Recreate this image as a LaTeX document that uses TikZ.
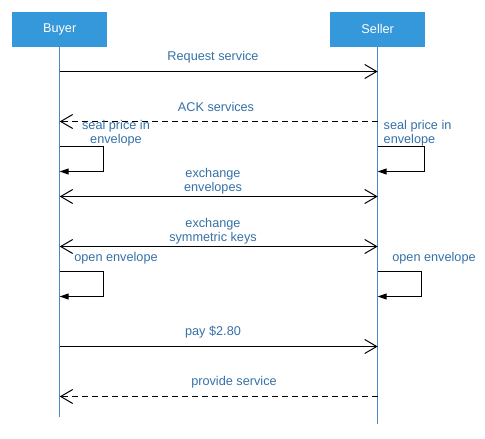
\documentclass[tikz,border=0pt]{standalone}
\usepackage{fontspec}
\setmainfont{Liberation Sans}
\usetikzlibrary{arrows.meta}
\definecolor{boxblue}{HTML}{3498DB}
\definecolor{lifeblue}{HTML}{4A88C8}
\definecolor{txtblue}{HTML}{3470A8}
\begin{document}
\begin{tikzpicture}[x=1pt,y=-1pt,
  every node/.style={font=\fontsize{12.7}{14}\selectfont, inner sep=0pt, text=txtblue},
  actor/.style={fill=boxblue, text=white, minimum width=95pt, minimum height=34.5pt, anchor=north west},
  lifeline/.style={draw=lifeblue, line width=1pt},
  msg/.style={draw=black, line width=1pt, -{Straight Barb[length=12pt,width=14pt,line width=1pt]}},
  reply/.style={msg, dashed, dash pattern=on 6pt off 4pt},
  both/.style={draw=black, line width=1pt, {Straight Barb[length=12pt,width=14pt,line width=1pt]}-{Straight Barb[length=12pt,width=14pt,line width=1pt]}},
  selfmsg/.style={draw=black, line width=1pt, -{Triangle[length=9pt,width=6pt]}},
  lbl/.style={align=center}]
\useasboundingbox (0,0) rectangle (485,439);
\node[actor] (buyer) at (12,12) {Buyer};
\node[actor] (seller) at (330,12) {Seller};
\coordinate (bend) at (buyer.south |- 0,417);
\coordinate (send) at (seller.south |- 0,424);
\draw[lifeline] (buyer.south) -- (bend);
\draw[lifeline] (seller.south) -- (send);
% messages
\coordinate (b1) at (buyer.south |- 0,71.5); \coordinate (s1) at (seller.south |- 0,71.5);
\draw[msg] (b1) -- (s1);
\node[lbl] (l1) at (213,57.5) {Request service};
\coordinate (b2) at (buyer.south |- 0,121.5); \coordinate (s2) at (seller.south |- 0,121.5);
\draw[reply] (s2) -- (b2);
\node[lbl] (l2) at (216,106.5) {ACK services};
% self loops 1
\coordinate (b3a) at (buyer.south |- 0,146.5); \coordinate (b3b) at (buyer.south |- 0,171.5);
\draw[selfmsg] (b3a) -- (103,146.5) -- (103,171.5) -- (b3b);
\node[lbl] (l3) at (116,133.5) {seal price in\\envelope};
\coordinate (s3a) at (seller.south |- 0,146.5); \coordinate (s3b) at (seller.south |- 0,171.5);
\draw[selfmsg] (s3a) -- (424.5,146.5) -- (424.5,171.5) -- (s3b);
\node[align=left, anchor=west] (l3s) at (383.5,133.5) {seal price in\\envelope};
% exchange envelopes
\coordinate (b4) at (buyer.south |- 0,196.5); \coordinate (s4) at (seller.south |- 0,196.5);
\draw[both] (b4) -- (s4);
\node[lbl] (l4) at (213,181.5) {exchange\\envelopes};
% exchange keys
\coordinate (b5) at (buyer.south |- 0,246.5); \coordinate (s5) at (seller.south |- 0,246.5);
\draw[both] (b5) -- (s5);
\node[lbl] (l5) at (213,231.5) {exchange\\symmetric keys};
% open envelope loops
\coordinate (b6a) at (buyer.south |- 0,271.5); \coordinate (b6b) at (buyer.south |- 0,296.5);
\draw[selfmsg] (b6a) -- (103,271.5) -- (103,296.5) -- (b6b);
\node[lbl] (l6) at (116,258) {open envelope};
\coordinate (s6a) at (seller.south |- 0,271.5); \coordinate (s6b) at (seller.south |- 0,296.5);
\draw[selfmsg] (s6a) -- (421.5,271.5) -- (421.5,296.5) -- (s6b);
\node[lbl] (l6s) at (434,258) {open envelope};
% pay
\coordinate (b7) at (buyer.south |- 0,346.5); \coordinate (s7) at (seller.south |- 0,346.5);
\draw[msg] (b7) -- (s7);
\node[lbl] (l7) at (213,332) {pay \$2.80};
% provide
\coordinate (b8) at (buyer.south |- 0,396.5); \coordinate (s8) at (seller.south |- 0,396.5);
\draw[reply] (s8) -- (b8);
\node[lbl] (l8) at (234,382) {provide service};
\end{tikzpicture}
\end{document}
